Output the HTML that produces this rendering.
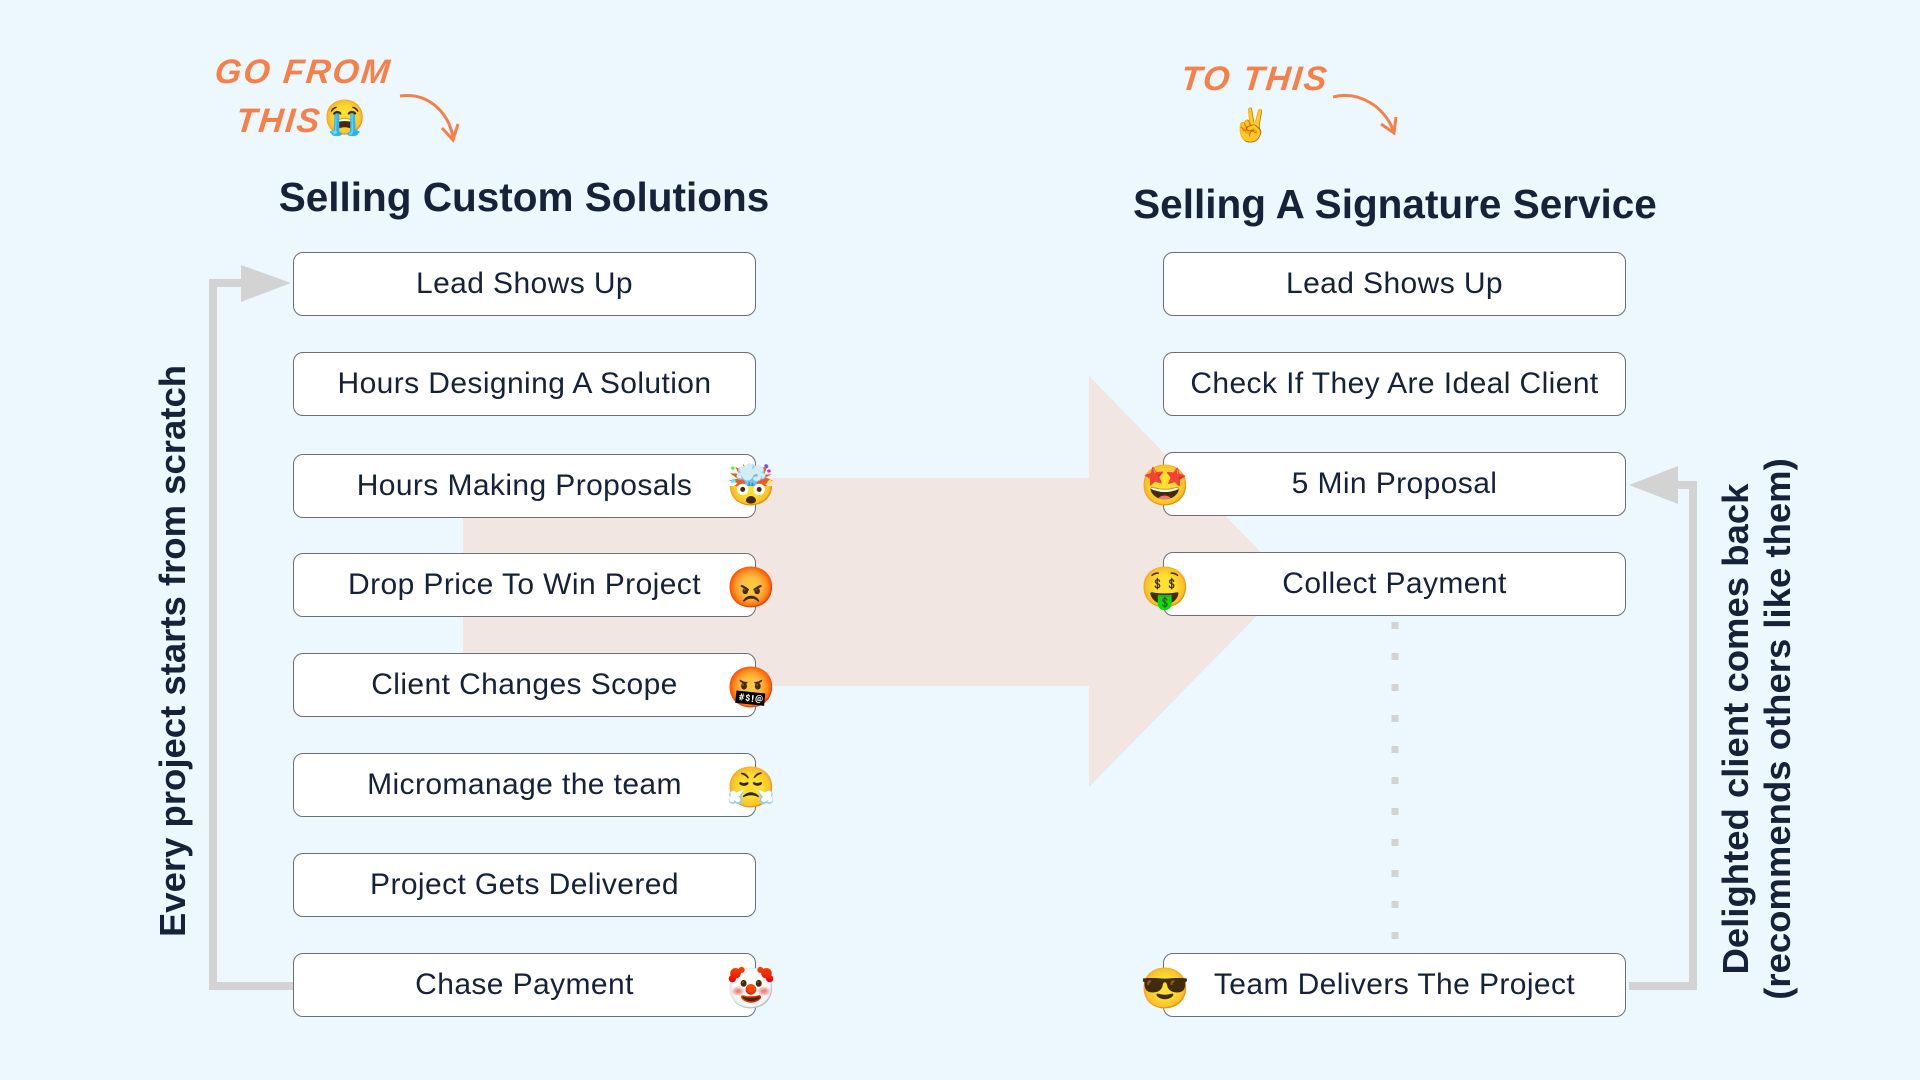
<!DOCTYPE html>
<html><head><meta charset="utf-8"><style>
body{margin:0;width:1920px;height:1080px;background:#ecf7fe;position:relative;overflow:hidden;font-family:"Liberation Sans",sans-serif;color:#15223a}
.b{position:absolute;width:463px;height:64px;background:#fff;border:1.5px solid #6b6f75;border-radius:10px;box-sizing:border-box;display:flex;align-items:center;justify-content:center;font-size:30px;letter-spacing:0.4px}
.t{position:absolute;font-weight:bold;font-size:40.5px;white-space:nowrap;transform:translateX(-50%)}
.e{position:absolute;font-size:40px;width:50px;height:50px;line-height:50px;text-align:center;transform:translate(-50%,-50%)}
.h{position:absolute;color:#f7804a;font:italic bold 34px "Liberation Sans",sans-serif;letter-spacing:2px;transform:skewX(-6deg)}
.r{position:absolute;font-weight:bold;font-size:36.5px;white-space:nowrap;transform:translate(-50%,-50%) rotate(-90deg);text-align:center;line-height:42px}
</style></head><body>
<svg width="1920" height="1080" style="position:absolute;left:0;top:0">
<polygon points="463,478 1089,478 1089,376 1290,582 1089,787 1089,686 463,686" fill="#f2e6e3"/>
<polyline points="294,986 213,986 213,283 245,283" fill="none" stroke="#d3d3d3" stroke-width="8"/>
<polygon points="241,265 291,283 241,302" fill="#d3d3d3"/>
<polyline points="1629,986 1693,986 1693,485 1676,485" fill="none" stroke="#d3d3d3" stroke-width="8"/>
<polygon points="1629,485 1678,466 1678,504" fill="#d3d3d3"/>
<line x1="1395" y1="622" x2="1395" y2="945" stroke="#d3d3d3" stroke-width="7" stroke-dasharray="7,24"/>
<path d="M400,96 C430,92 450,115 453,138" fill="none" stroke="#f7804a" stroke-width="3"/>
<path d="M442,128 L453,140 L458,124" fill="none" stroke="#f7804a" stroke-width="3"/>
<path d="M1333,97 C1360,90 1385,108 1393,130" fill="none" stroke="#f7804a" stroke-width="3"/>
<path d="M1381,124 L1394,133 L1396,117" fill="none" stroke="#f7804a" stroke-width="3"/>
</svg>
<div class="h" style="left:215px;top:53px">GO FROM</div>
<div class="h" style="left:236px;top:102px">THIS</div>
<div class="e" style="left:345px;top:118px;font-size:34px">😭</div>
<div class="h" style="left:1181px;top:60px">TO THIS</div>
<div class="e" style="left:1251px;top:125px;font-size:32px">✌️</div>
<div class="t" style="left:524px;top:174px">Selling Custom Solutions</div>
<div class="t" style="left:1395px;top:181px">Selling A Signature Service</div>
<div class="b" style="left:293px;top:252px">Lead Shows Up</div>
<div class="b" style="left:293px;top:352px">Hours Designing A Solution</div>
<div class="b" style="left:293px;top:454px">Hours Making Proposals</div>
<div class="b" style="left:293px;top:553px">Drop Price To Win Project</div>
<div class="b" style="left:293px;top:653px">Client Changes Scope</div>
<div class="b" style="left:293px;top:753px">Micromanage the team</div>
<div class="b" style="left:293px;top:853px">Project Gets Delivered</div>
<div class="b" style="left:293px;top:953px">Chase Payment</div>
<div class="b" style="left:1163px;top:252px">Lead Shows Up</div>
<div class="b" style="left:1163px;top:352px">Check If They Are Ideal Client</div>
<div class="b" style="left:1163px;top:452px">5 Min Proposal</div>
<div class="b" style="left:1163px;top:552px">Collect Payment</div>
<div class="b" style="left:1163px;top:953px">Team Delivers The Project</div>
<div class="e" style="left:751px;top:486px">🤯</div>
<div class="e" style="left:751px;top:588px">😡</div>
<div class="e" style="left:751px;top:688px">🤬</div>
<div class="e" style="left:751px;top:788px">😤</div>
<div class="e" style="left:751px;top:989px">🤡</div>
<div class="e" style="left:1165px;top:486px">🤩</div>
<div class="e" style="left:1165px;top:588px">🤑</div>
<div class="e" style="left:1165px;top:989px">😎</div>
<div class="r" style="left:173px;top:651px">Every project starts from scratch</div>
<div class="r" style="left:1757px;top:729px">Delighted client comes back<br>(recommends others like them)</div>
</body></html>
